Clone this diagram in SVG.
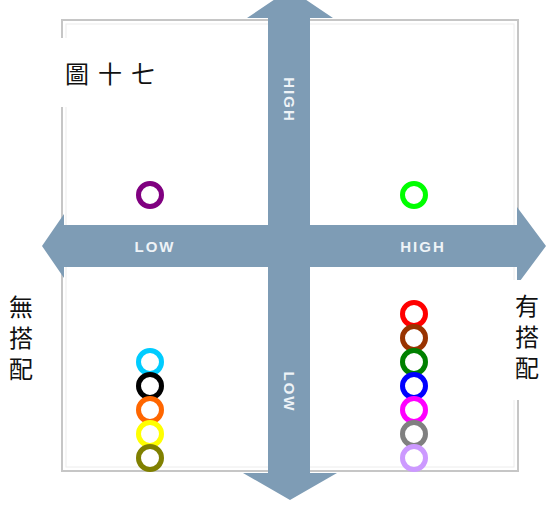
<svg xmlns="http://www.w3.org/2000/svg" width="549" height="518" viewBox="0 0 549 518">
  <style>
    .axis { fill: #7e9cb5; }
    .axlbl { font-family: "Liberation Sans", Arial, sans-serif; font-weight: bold; font-size: 15px; fill: #eef3f7; letter-spacing: 2px; text-anchor: middle; }
    .cjk { font-family: "Noto Sans CJK TC", "Noto Sans CJK SC", sans-serif; fill: #111; }
    .v { font-size: 24px; writing-mode: vertical-rl; letter-spacing: 7px; }
    .dot { fill: none; stroke-width: 5; }
  </style>
  <rect width="549" height="518" fill="#ffffff"/>
  <g id="frame">
    <rect x="62" y="20" width="456" height="451" fill="#ffffff" stroke="#c6c6c6" stroke-width="2"/>
    <rect x="66" y="24" width="448" height="443" fill="none" stroke="#ececec" stroke-width="1"/>
  </g>
  <g id="axes">
    <polygon class="axis" points="42,246 64,214 64,225 268,225 268,18 247,18 290,-11 333,18 310,18 310,225 517,225 517,207 546,246 517,285 517,267 310,267 310,473 337,473 290,500 243,473 268,473 268,267 64,267 64,278"/>
    <text class="axlbl" x="155" y="252">LOW</text>
    <text class="axlbl" x="423" y="252">HIGH</text>
    <text class="axlbl" transform="translate(284,100) rotate(90)">HIGH</text>
    <text class="axlbl" transform="translate(284,392) rotate(90)">LOW</text>
  </g>
  <g id="title">
    <rect x="55" y="38" width="110" height="69" fill="#ffffff"/>
    <text class="cjk" x="65" y="83" font-size="24" letter-spacing="9">圖十七</text>
  </g>
  <g id="label-left">
    <text class="cjk v" x="21" y="295">無搭配</text>
  </g>
  <g id="label-right">
    <rect x="473" y="280" width="76" height="120" fill="#ffffff"/>
    <text class="cjk v" x="527" y="294">有搭配</text>
  </g>
  <g id="dot-purple"><circle class="dot" cx="150" cy="195" r="11.5" stroke="#800080"/></g>
  <g id="dot-lime"><circle class="dot" cx="414" cy="195" r="11.5" stroke="#00ff00"/></g>
  <g id="dot-cyan"><circle class="dot" cx="150" cy="362" r="11.5" stroke="#00ccff"/></g>
  <g id="dot-black"><circle class="dot" cx="150" cy="386" r="11.5" stroke="#000000"/></g>
  <g id="dot-orange"><circle class="dot" cx="150" cy="410" r="11.5" stroke="#ff6600"/></g>
  <g id="dot-yellow"><circle class="dot" cx="150" cy="434" r="11.5" stroke="#ffff00"/></g>
  <g id="dot-olive"><circle class="dot" cx="150" cy="458" r="11.5" stroke="#808000"/></g>
  <g id="dot-red"><circle class="dot" cx="414" cy="314" r="11.5" stroke="#ff0000"/></g>
  <g id="dot-brown"><circle class="dot" cx="414" cy="338" r="11.5" stroke="#993300"/></g>
  <g id="dot-green"><circle class="dot" cx="414" cy="362" r="11.5" stroke="#008000"/></g>
  <g id="dot-blue"><circle class="dot" cx="414" cy="386" r="11.5" stroke="#0000ff"/></g>
  <g id="dot-magenta"><circle class="dot" cx="414" cy="410" r="11.5" stroke="#ff00ff"/></g>
  <g id="dot-gray"><circle class="dot" cx="414" cy="434" r="11.5" stroke="#808080"/></g>
  <g id="dot-lilac"><circle class="dot" cx="414" cy="458" r="11.5" stroke="#cc99ff"/></g>
</svg>
